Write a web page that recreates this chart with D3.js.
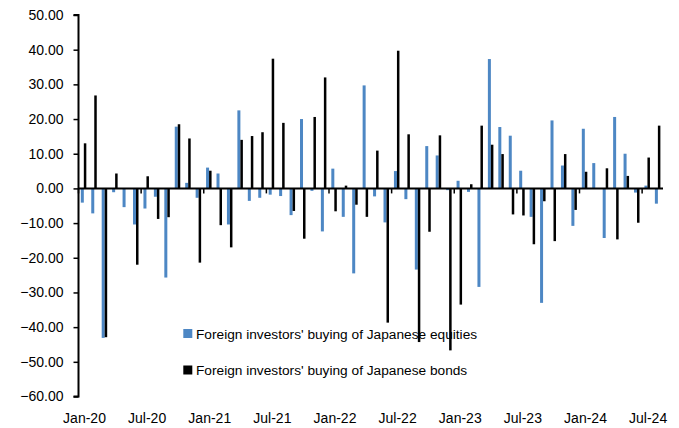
<!DOCTYPE html>
<html>
<head>
<meta charset="utf-8">
<script src="https://cdn.jsdelivr.net/npm/d3@7"></script>
<style>
  html, body { margin: 0; padding: 0; background: #fff; }
  svg text { font-family: "Liberation Sans", Arial, sans-serif; fill: #000; }
</style>
</head>
<body>
<svg id="chart" width="679" height="428"></svg>
<script>
// Monthly net buying, Jan-20 .. Aug-24
const months = d3.timeMonth.range(new Date(2020, 0, 1), new Date(2024, 8, 1))
  .map(d3.timeFormat("%b-%y"));

const equities = [
  -4.1, -7.2, -43.1, -1.1, -5.4, -10.4, -5.8, -2.4, -25.7, 17.8, 1.6, -2.7,
  6.0, 4.3, -10.4, 22.5, -3.6, -2.7, -1.8, -2.2, -7.7, 20.0, -0.7, -12.4,
  5.7, -8.2, -24.5, 29.7, -2.3, -9.8, 5.0, -3.1, -23.4, 12.2, 9.5, -0.5,
  2.2, -1.0, -28.4, 37.3, 17.7, 15.2, 5.1, -8.2, -33.0, 19.6, 6.6, -10.8,
  17.2, 7.3, -14.3, 20.6, 10.0, -1.2, 0.8, -4.4
];

const bonds = [
  13.0, 26.8, -42.9, 4.3, 0.0, -22.0, 3.5, -8.8, -8.3, 18.5, 14.4, -21.4,
  5.1, -10.6, -17.0, 14.0, 15.1, 16.2, 37.4, 18.9, -6.5, -14.5, 20.6, 32.0,
  -6.6, 0.8, -4.7, -8.2, 10.9, -38.7, 39.7, 15.6, -44.3, -12.5, 15.3, -46.7,
  -33.5, 1.2, 18.1, 12.6, 9.9, -7.5, -7.8, -16.1, -3.7, -15.2, 9.9, -6.2,
  4.8, 0.0, 5.8, -14.7, 3.6, -9.9, 8.9, 18.1
];

const xTickLabels = ["Jan-20", "Jul-20", "Jan-21", "Jul-21", "Jan-22",
                     "Jul-22", "Jan-23", "Jul-23", "Jan-24", "Jul-24"];
const yTicks = [50, 40, 30, 20, 10, 0, -10, -20, -30, -40, -50, -60];

const seriesNames = [
  "Foreign investors' buying of Japanese equities",
  "Foreign investors' buying of Japanese bonds"
];
const colors = ["#4d87c4", "#000000"];

(function draw() {
  const svg = d3.select("#chart");
  const plotLeft = 78.5, plotRight = 663, plotTop = 15, plotBottom = 396.5;

  const x = d3.scaleBand().domain(months).range([plotLeft, plotRight]).padding(0);
  const y = d3.scaleLinear().domain([-60, 50]).range([plotBottom, plotTop]);
  const bw = x.bandwidth();

  // equities bars (left of band centre)
  svg.append("g").selectAll("rect")
    .data(equities)
    .join("rect")
    .attr("x", (d, i) => x(months[i]) + bw / 2 - 2.9)
    .attr("width", 3.0)
    .attr("y", d => y(Math.max(0, d)))
    .attr("height", d => Math.abs(y(d) - y(0)))
    .attr("fill", colors[0]);

  // bond bars (right of band centre)
  svg.append("g").selectAll("rect")
    .data(bonds)
    .join("rect")
    .attr("x", (d, i) => x(months[i]) + bw / 2 + 0.1)
    .attr("width", 2.5)
    .attr("y", d => y(Math.max(0, d)))
    .attr("height", d => Math.abs(y(d) - y(0)))
    .attr("fill", colors[1]);

  // value axis
  const yAxis = d3.axisLeft(y)
    .tickValues(yTicks)
    .tickSize(5)
    .tickPadding(10)
    .tickFormat(d3.format(".2f"));
  const gy = svg.append("g").attr("transform", `translate(${plotLeft},0)`).call(yAxis);
  gy.select(".domain").attr("stroke", "#000").attr("stroke-width", 2)
    .attr("d", `M-5,${y(50)}H0V${y(-60)}H-5`);
  gy.selectAll(".tick line").attr("stroke", "#000").attr("stroke-width", 1.5);
  gy.selectAll(".tick text")
    .style("font-family", '"Liberation Sans", Arial, sans-serif')
    .style("font-size", "14px").attr("fill", "#000");

  // category axis along zero
  const zeroY = y(0);
  svg.append("line")
    .attr("x1", plotLeft).attr("x2", plotRight)
    .attr("y1", zeroY).attr("y2", zeroY)
    .attr("stroke", "#000").attr("stroke-width", 2);

  const tickIdx = months.map((m, i) => i).filter(i => i % 6 === 0);
  svg.append("g").selectAll("line")
    .data(tickIdx)
    .join("line")
    .attr("x1", i => x(months[i])).attr("x2", i => x(months[i]))
    .attr("y1", zeroY).attr("y2", zeroY + 5)
    .attr("stroke", "#000").attr("stroke-width", 1.5);

  svg.append("g").selectAll("text")
    .data(xTickLabels)
    .join("text")
    .attr("x", d => x(d) + bw / 2 + 0.8)
    .attr("y", 422.5)
    .attr("text-anchor", "middle")
    .style("font-size", "14px")
    .text(d => d);

  // legend
  const legend = svg.append("g");
  const legendRows = [333.5, 370];
  seriesNames.forEach((name, i) => {
    legend.append("rect")
      .attr("x", 183.3).attr("y", legendRows[i] - 4.5)
      .attr("width", 9).attr("height", 9)
      .attr("fill", colors[i]);
    legend.append("text")
      .attr("x", 196).attr("y", legendRows[i] + 5)
      .style("font-size", "13.7px")
      .text(name);
  });
})();
</script>
</body>
</html>
